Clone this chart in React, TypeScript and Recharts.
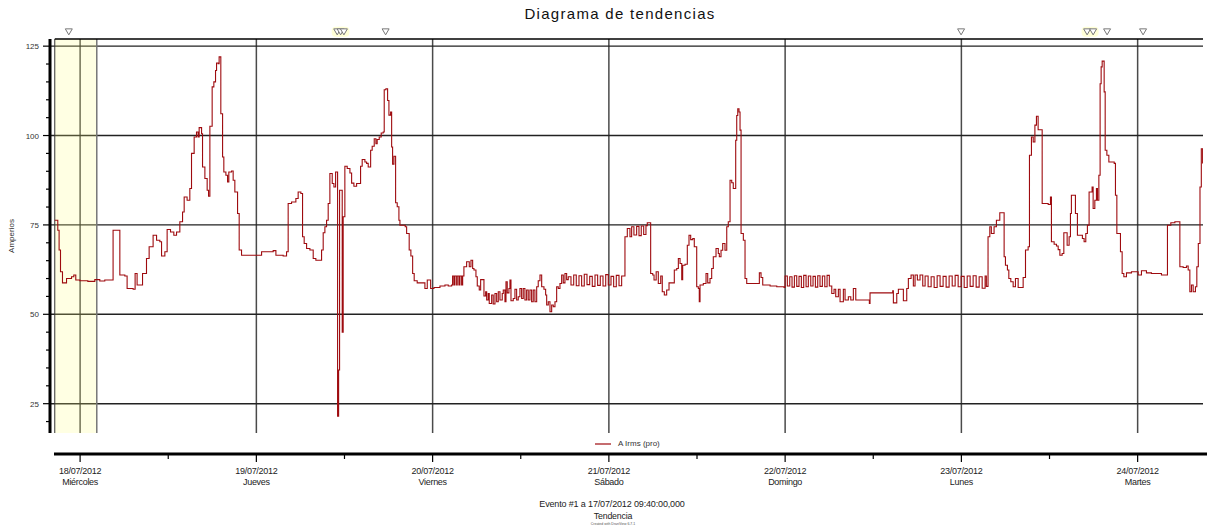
import React from "react";
import {
  LineChart,
  Line,
  XAxis,
  YAxis,
  CartesianGrid,
  ReferenceArea,
  ReferenceLine,
  ReferenceDot,
  Legend,
} from "recharts";

const FONT = '"Liberation Sans", Arial, sans-serif';
const LINE_COLOR = "#9e0b0f";

// horas desde el 18/07/2012 00:00
const sampleHours = [
  -3.45, -3.04, -2.86, -2.67, -2.4, -1.85, -1.17, -0.86, -0.59, -0.04, 1.05, 2.0, 2.68, 3.36, 4.49, 5.41,
  6.09, 6.4, 7.22, 7.49, 7.76, 8.5, 9.04, 9.4, 9.94, 10.41, 10.86, 11.09, 11.54, 11.85, 12.31, 12.76,
  13.13, 13.58, 13.95, 14.17, 14.57, 14.94, 15.17, 15.53, 15.85, 16.07, 16.21, 16.54, 16.67, 16.99, 17.3, 17.49,
  17.67, 17.98, 18.21, 18.44, 18.58, 18.8, 18.93, 19.16, 19.4, 19.57, 19.85, 20.08, 20.25, 20.62, 20.84, 21.07,
  21.44, 21.66, 21.98, 24.71, 26.29, 26.66, 27.65, 28.11, 28.33, 28.79, 29.38, 29.69, 30.06, 30.29, 30.51, 30.84,
  31.29, 31.74, 32.1, 32.88, 33.1, 33.33, 33.56, 33.78, 34.01, 34.33, 34.56, 34.79, 35.06, 35.2, 35.33, 35.69,
  35.82, 36.05, 36.37, 36.74, 36.97, 37.28, 37.65, 38.19, 38.41, 38.78, 39.01, 39.23, 39.56, 39.77, 40.05, 40.28,
  40.45, 40.73, 41.0, 41.27, 41.41, 41.64, 41.87, 42.05, 42.28, 42.42, 42.55, 42.73, 42.96, 43.18, 43.41, 43.55,
  44.27, 44.46, 44.81, 45.04, 45.28, 45.49, 45.9, 46.95, 47.27, 47.73, 48.18, 49.0, 49.68, 50.13, 50.59, 50.72,
  50.9, 51.04, 51.27, 51.35, 51.58, 51.72, 51.95, 52.09, 52.26, 52.63, 52.99, 53.22, 53.45, 53.63, 53.9, 54.08,
  54.35, 54.54, 54.99, 55.22, 55.36, 55.57, 55.71, 56.04, 56.25, 56.49, 56.72, 56.94, 57.17, 57.48, 57.62, 57.85,
  57.99, 58.16, 58.39, 58.53, 58.67, 58.98, 59.21, 59.44, 59.66, 59.89, 60.12, 60.34, 60.57, 60.8, 61.02, 61.25,
  61.48, 61.7, 61.93, 62.17, 62.38, 62.62, 62.85, 63.16, 63.39, 63.53, 63.75, 63.98, 64.21, 64.43, 64.66, 64.89,
  65.11, 65.34, 65.57, 65.79, 66.02, 66.25, 66.47, 66.84, 67.21, 67.56, 67.93, 68.29, 68.65, 69.02, 69.39, 69.74,
  70.11, 70.47, 70.83, 71.2, 71.57, 71.92, 72.29, 72.65, 73.01, 73.38, 73.74, 74.19, 74.51, 74.87, 75.1, 75.41,
  75.78, 76.1, 76.41, 76.74, 77.05, 77.23, 77.69, 77.97, 78.15, 78.44, 78.73, 79.06, 79.27, 79.55, 79.87, 80.19,
  80.91, 81.24, 81.46, 81.69, 81.92, 82.05, 82.37, 82.68, 82.91, 83.14, 83.42, 83.63, 83.96, 84.18, 84.31, 84.41,
  84.86, 85.23, 85.46, 85.77, 86.0, 86.22, 86.59, 86.9, 87.04, 87.27, 87.5, 87.81, 88.05, 88.26, 88.5, 88.73,
  88.94, 89.27, 89.41, 89.55, 89.72, 89.86, 90.0, 90.31, 90.54, 90.77, 92.49, 92.72, 92.95, 93.95, 94.86, 95.85,
  95.99, 96.3, 96.63, 96.94, 97.26, 97.58, 97.89, 98.21, 98.53, 98.85, 99.16, 99.49, 99.8, 100.12, 100.44, 100.75,
  101.07, 101.4, 101.71, 102.02, 102.35, 102.66, 102.89, 103.25, 103.48, 103.93, 104.16, 104.61, 104.94, 105.29, 105.62, 107.47,
  107.56, 110.65, 110.74, 111.2, 111.42, 112.1, 112.56, 112.78, 113.15, 113.46, 113.69, 114.01, 114.37, 114.74, 115.06, 115.47,
  115.88, 116.29, 116.7, 117.1, 117.51, 117.92, 118.33, 118.75, 119.15, 119.56, 119.97, 120.38, 120.79, 121.19, 121.6, 122.01,
  122.42, 122.83, 123.23, 123.4, 123.63, 123.87, 124.08, 124.45, 124.77, 125.23, 125.82, 126.0, 126.27, 126.46, 126.73, 127.05,
  127.36, 127.73, 128.41, 128.73, 129.09, 129.27, 129.54, 129.78, 130.01, 130.22, 130.45, 131.0, 131.82, 132.13, 132.26, 132.63,
  132.95, 133.18, 133.41, 133.72, 133.95, 134.4, 134.67, 134.85, 134.98, 135.53, 135.8, 136.48, 136.71, 136.94, 137.16, 137.39,
  137.8, 137.94, 138.17, 138.39, 138.53, 138.72, 138.89, 139.03, 139.17, 139.44, 139.58, 139.81, 140.08, 140.81, 140.98, 141.17,
  141.66, 141.89, 142.12, 142.48, 143.16, 144.07, 144.52, 145.2, 145.88, 147.24, 148.06, 148.52, 149.07, 149.75, 150.2, 150.65,
  150.88, 151.11, 151.33, 151.56, 151.87, 152.06, 152.26, 152.49, 152.67, 152.85,
];

const ampsRms = [
  76.3, 73.5, 68, 61.9, 58.8, 60, 60.5, 61, 59.6, 59.4, 59.2, 59.7, 59.3, 59.6, 73.5, 61,
  60.7, 57.2, 57, 61.4, 58.2, 61.4, 65.6, 68.9, 72.1, 70.7, 70.3, 66.3, 67.5, 73.7, 73, 72.1,
  73, 75.9, 78.6, 82.8, 81.9, 85.2, 95, 99.6, 101, 99.6, 102.2, 100.5, 91.2, 88, 84.7, 83,
  102.6, 113.6, 115, 118.2, 120.3, 120.1, 122, 106.1, 94, 89.8, 88.9, 87, 89.8, 90.1, 87.5, 84.2,
  78.2, 68, 66.5, 67.5, 67.8, 66.5, 66.3, 67.5, 81, 81.4, 82.4, 84.2, 83.8, 71.7, 69.8, 68.4,
  68, 65.6, 65.1, 68, 72.8, 74.5, 76.3, 81, 89.4, 86.6, 85.6, 89.8, 21.5, 34.4, 84.7, 45,
  77.3, 91.4, 90.8, 89.5, 86.7, 85.8, 86.6, 91.4, 93.3, 92.6, 92.2, 91.2, 95.9, 97, 99.1, 97.7,
  98.9, 99.6, 100.7, 101, 112.8, 113.1, 109.8, 105.7, 106.6, 96.8, 92, 94.2, 81.2, 80.1, 76.3, 74.9,
  74.5, 72.6, 68, 66.3, 61.4, 59.4, 58.8, 57.2, 59.6, 57.2, 57.5, 57.9, 58.2, 57.9, 58.2, 60.7,
  58.2, 60.7, 58.2, 60.7, 58.2, 60.7, 58.2, 60.7, 63.3, 64.7, 63.3, 65.1, 62.8, 62.4, 60.5, 57.9,
  56.8, 59.7, 55.1, 56.3, 54, 55.8, 53, 55.4, 52.9, 55.8, 53.5, 56.3, 54, 55.8, 56.8, 53.5,
  59.1, 56, 57.2, 59.6, 53.8, 54.4, 57, 54, 54.9, 57.2, 54.4, 57.2, 54, 56.8, 54, 56.8,
  53.5, 56.8, 53.5, 57.7, 59.4, 61, 57.7, 57, 55.4, 52.6, 53.5, 50.7, 52.6, 52.1, 53.5, 57.7,
  57.2, 58.6, 61, 58.8, 61.4, 59.7, 60.5, 58.2, 61, 58, 60.8, 57.9, 61.2, 58.3, 60.6, 57.8,
  61, 58.1, 60.7, 57.9, 61.1, 58.2, 60.6, 57.7, 60.9, 58, 60.7, 71.7, 74, 71.7, 74.5, 72.2,
  74.6, 72, 74.7, 72.3, 74.8, 75.6, 61.4, 61, 59.6, 61.9, 58.6, 60.7, 56.3, 55.4, 56.8, 58.8,
  62.4, 62.8, 65.6, 64.2, 59.7, 63.7, 64, 69.3, 72.1, 70.9, 71.2, 68.9, 57.7, 57.2, 53.5, 58.2,
  58.6, 61.4, 58.8, 60, 62.8, 66.1, 68.4, 67, 66.1, 67.9, 69.8, 67.9, 74.5, 75.9, 87.5, 86.8,
  85.2, 98.7, 105.6, 107.5, 106.6, 101.5, 72.6, 70.7, 60, 58.6, 61.6, 60.3, 58.2, 57.9, 57.7, 57.5,
  60.7, 57.9, 60.5, 57.6, 60.8, 57.8, 60.6, 57.5, 60.9, 57.7, 60.7, 57.9, 60.6, 57.6, 60.8, 57.8,
  60.7, 57.7, 60.9, 57.9, 55.8, 57, 54.9, 57, 53.5, 57, 54, 54.9, 54, 57.2, 54, 53,
  56, 56.6, 53.2, 55.8, 57, 53.8, 57.2, 60, 61, 57.9, 61, 59.6, 61, 57.9, 60.7, 57.7,
  60.5, 57.5, 60.8, 57.8, 60.6, 57.6, 60.7, 57.9, 60.9, 57.7, 60.6, 57.5, 60.7, 57.8, 60.8, 57.6,
  60.5, 57.3, 60.7, 57.8, 71.7, 74.5, 72.6, 74.5, 76.3, 78.4, 66.1, 63.7, 62.4, 60, 59.1, 57.7,
  60, 57.5, 60.3, 68, 68.9, 94.5, 99.6, 98.2, 102.9, 105.4, 101.6, 81, 80.7, 82.8, 70.3, 69.6,
  69.1, 68.1, 66.5, 67, 72.8, 69.3, 71.7, 78.2, 83.3, 78.2, 72.1, 71.2, 70.3, 72.6, 74.9, 84.2,
  85.6, 79.6, 81.9, 85.2, 81.9, 88.9, 114.5, 119.2, 120.8, 112.2, 95.9, 94.5, 92.6, 92.2, 83.3, 72.6,
  67.5, 61.4, 60.5, 61.6, 61.9, 61, 62.2, 61.6, 61.4, 61, 74.9, 75.6, 75.9, 63.3, 63.1, 63.5,
  62.4, 56.3, 58.2, 56.3, 57.7, 63.3, 69.8, 85.6, 96.3, 92.2,
];

const dayTicks = [0, 24, 48, 72, 96, 120, 144];
const halfDayTicks = [12, 36, 60, 84, 108, 132];
const dateLabels = ["18/07/2012", "19/07/2012", "20/07/2012", "21/07/2012", "22/07/2012", "23/07/2012", "24/07/2012"];
const dayNames = ["Miércoles", "Jueves", "Viernes", "Sábado", "Domingo", "Lunes", "Martes"];

const yGrid = [25, 50, 75, 100, 125];
const yTicks = [20, 25, 30, 35, 40, 45, 50, 55, 60, 65, 70, 75, 80, 85, 90, 95, 100, 105, 110, 115, 120, 125];

// marcas de eventos (triangulos de arriba)
const eventHours = [-1.54, 35.01, 35.47, 35.92, 41.6, 119.96, 137.12, 137.94, 139.84, 144.74];
const eventGlowHours = [35.01, 35.47, 35.92, 137.12, 137.94];

const selectionStart = -3.45;
const selectionEnd = 2.27;
const xDomain = [-4.1, 152.9];
const yDomain = [16.8, 127];
const markerLevel = 129;

const trendData = sampleHours.map((h, i) => ({ h, a: ampsRms[i] }));
const xTicks = [...dayTicks, ...halfDayTicks].sort((a, b) => a - b);

function DayTick(props: any) {
  const { x, y, payload } = props;
  const i = dayTicks.indexOf(payload.value);
  if (i < 0) {
    return <line x1={x} x2={x} y1={y + 21} y2={y + 26} stroke="#000" strokeWidth={1.2} />;
  }
  return (
    <g fontFamily={FONT} fontSize={9} fill="#222" letterSpacing={-0.3}>
      <line x1={x} x2={x} y1={y + 21} y2={y + 29} stroke="#000" strokeWidth={1.2} />
      <text x={x} y={y + 41} textAnchor="middle">{dateLabels[i]}</text>
      <text x={x} y={y + 52} textAnchor="middle">{dayNames[i]}</text>
    </g>
  );
}

function AmpTick(props: any) {
  const { x, y, payload } = props;
  const major = yGrid.includes(payload.value);
  return (
    <g>
      <line x1={x - (major ? 7 : 4)} x2={x} y1={y} y2={y} stroke="#000" strokeWidth={1.2} />
      {major && (
        <text x={x - 11} y={y + 3} textAnchor="end" fontFamily={FONT} fontSize={8} fill="#333">
          {payload.value}
        </text>
      )}
    </g>
  );
}

function YTitle(props: any) {
  const vb = props.viewBox;
  const cx = vb.x + 9;
  const cy = vb.y + vb.height / 2;
  return (
    <text x={cx} y={cy} transform={`rotate(-90, ${cx}, ${cy})`} textAnchor="middle" fontFamily={FONT} fontSize={8} fill="#333">
      Amperios
    </text>
  );
}

function EventMark(props: any) {
  const { cx, cy } = props;
  return (
    <path d={`M${cx - 3.5},${cy - 3} L${cx + 3.5},${cy - 3} L${cx},${cy + 3} Z`} fill="#fff" stroke="#777" strokeWidth={1} />
  );
}

function EventGlow(props: any) {
  const { cx, cy } = props;
  return <rect x={cx - 5.5} y={cy - 5} width={11} height={10} rx={4} fill="#ffffd6" />;
}

function LegendContent(props: any) {
  const items = props.payload || [];
  return (
    <div style={{ display: "flex", alignItems: "center", fontFamily: FONT, fontSize: 8, color: "#333" }}>
      {items.map((it: any) => (
        <React.Fragment key={it.value}>
          <svg width={17} height={4}>
            <line x1={0} x2={16} y1={2} y2={2} stroke={LINE_COLOR} strokeWidth={1.2} />
          </svg>
          <span style={{ marginLeft: 6 }}>{it.value}</span>
        </React.Fragment>
      ))}
    </div>
  );
}

export default function App() {
  return (
    <div style={{ position: "absolute", left: 0, top: 0, width: 1212, height: 531, background: "#fff", fontFamily: FONT }}>
      <div style={{ position: "absolute", left: 0, width: 1212, top: 6, textAlign: "center", paddingLeft: 28, boxSizing: "border-box", fontSize: 15, lineHeight: "16px", letterSpacing: 1.3, color: "#111" }}>
        Diagrama de tendencias
      </div>
      <LineChart width={1212} height={531} data={trendData} margin={{ top: 39, right: 9, bottom: 38, left: 5 }}>
        <CartesianGrid horizontal={false} verticalValues={dayTicks} stroke="#4a4a4a" strokeWidth={1.5} />
        <CartesianGrid vertical={false} horizontalValues={yGrid} stroke="#222" strokeWidth={1.4} />
        <ReferenceArea x1={selectionStart} x2={selectionEnd} fill="#ffff80" fillOpacity={0.22} stroke="none" />
        <ReferenceLine x={selectionEnd} stroke="#777" strokeWidth={1.5} />
        <ReferenceLine x={selectionStart} stroke="#333" strokeWidth={1} />
        <ReferenceLine
          segment={[{ x: selectionStart, y: yDomain[1] }, { x: xDomain[1], y: yDomain[1] }]}
          stroke="#000"
          strokeWidth={1.5}
        />
        <XAxis
          dataKey="h"
          type="number"
          domain={xDomain}
          ticks={xTicks}
          interval={0}
          tickSize={0}
          tickMargin={0}
          tickLine={false}
          axisLine={{ stroke: "#000", strokeWidth: 3, transform: "translate(4 21)" }}
          tick={<DayTick />}
          height={60}
          allowDataOverflow
        />
        <YAxis
          type="number"
          domain={yDomain}
          ticks={yTicks}
          interval={0}
          tickSize={0}
          tickMargin={0}
          tickLine={false}
          axisLine={{ stroke: "#000", strokeWidth: 3 }}
          tick={<AmpTick />}
          width={45}
          allowDataOverflow
          label={(p: any) => <YTitle {...p} />}
        />
        <Legend
          layout="horizontal"
          verticalAlign="middle"
          align="center"
          wrapperStyle={{ left: 595, top: 439, width: 120, height: 12 }}
          content={<LegendContent />}
        />
        <Line
          dataKey="a"
          name="A Irms (pro)"
          type="stepAfter"
          stroke={LINE_COLOR}
          strokeWidth={1.1}
          dot={false}
          activeDot={false}
          isAnimationActive={false}
        />
        {eventGlowHours.map((h) => (
          <ReferenceDot key={"g" + h} x={h} y={markerLevel} ifOverflow="visible" shape={<EventGlow />} />
        ))}
        {eventHours.map((h) => (
          <ReferenceDot key={"e" + h} x={h} y={markerLevel} ifOverflow="visible" shape={<EventMark />} />
        ))}
      </LineChart>
      <div style={{ position: "absolute", left: 0, width: 1212, paddingLeft: 12, boxSizing: "border-box", top: 499, textAlign: "center", fontSize: 9, lineHeight: "10px", letterSpacing: -0.15, color: "#222" }}>
        Evento #1 a 17/07/2012 09:40:00,000
      </div>
      <div style={{ position: "absolute", left: 0, width: 1212, paddingLeft: 14, boxSizing: "border-box", top: 511, textAlign: "center", fontSize: 8.8, lineHeight: "10px", letterSpacing: -0.2, color: "#222" }}>
        Tendencia
      </div>
      <div style={{ position: "absolute", left: 0, width: 1212, paddingLeft: 14, boxSizing: "border-box", top: 522, textAlign: "center", fontSize: 3.5, lineHeight: "5px", color: "#555" }}>
        Created with DranView 6.7.1
      </div>
    </div>
  );
}
